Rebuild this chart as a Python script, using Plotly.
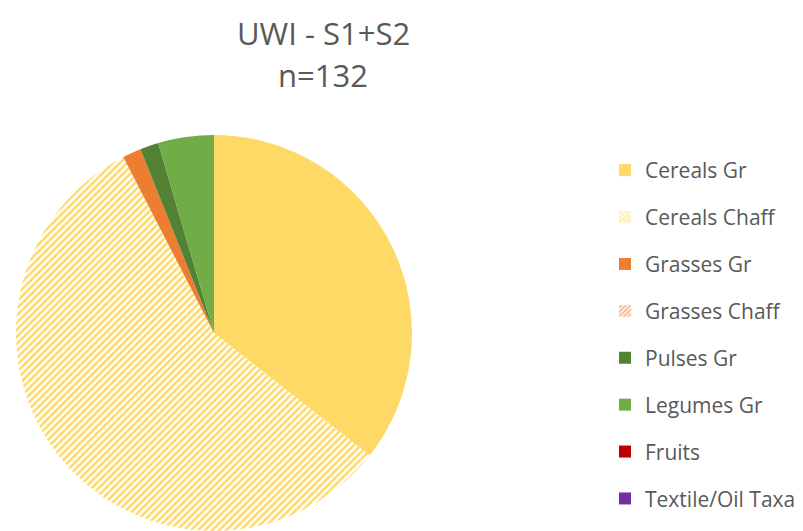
import plotly.graph_objects as go

# Seed counts by category (UWI, samples S1+S2)
categories = ["Cereals Gr", "Cereals Chaff", "Grasses Gr", "Grasses Chaff",
              "Pulses Gr", "Legumes Gr", "Fruits", "Textile/Oil Taxa"]
counts = [47, 75, 2, 0, 2, 6, 0, 0]
colors = ["#FFD966", "#FFD966", "#ED7D31", "#ED7D31",
          "#548235", "#70AD47", "#C00000", "#7030A0"]
hatch = ["", "/", "", "/", "", "", "", ""]
title_lines = ["UWI - S1+S2", "n=132"]

TEXT = "#595959"
FONT = "Open Sans"

fig = go.Figure()

fig.add_trace(go.Pie(
    labels=categories,
    values=counts,
    sort=False,
    direction="clockwise",
    rotation=0,
    textinfo="none",
    showlegend=False,
    marker=dict(
        colors=colors,
        line=dict(width=0),
        pattern=dict(shape=hatch, fgcolor=colors, bgcolor="white",
                     size=5, solidity=0.5),
    ),
    domain=dict(x=[16 / 803, 412 / 803], y=[0, 396 / 531]),
))

# Legend entries with square (and hatched) swatches
for name, col, shp in zip(categories, colors, hatch):
    fig.add_trace(go.Bar(
        x=[None], y=[None], name=name, legendgroup=name,
        marker=dict(color=col if shp == "" else "white", line=dict(width=0),
                    pattern=dict(shape=shp, fgcolor=col, bgcolor="white",
                                 size=4, solidity=0.65)),
        hoverinfo="skip",
    ))

# Two-line chart title
for txt, yc in zip(title_lines, [33, 75]):
    fig.add_annotation(text=txt, x=323 / 803, y=1 - yc / 531,
                       xref="paper", yref="paper", xanchor="center",
                       yanchor="middle", showarrow=False,
                       font=dict(size=31, color=TEXT, family=FONT))

fig.update_layout(
    width=803, height=531,
    margin=dict(l=0, r=0, t=0, b=0),
    paper_bgcolor="white", plot_bgcolor="white",
    font=dict(family=FONT, color=TEXT),
    legend=dict(x=605 / 803, xanchor="left", y=1 - 150 / 531, yanchor="top",
                font=dict(size=21, color=TEXT, family=FONT),
                tracegroupgap=16.6, traceorder="grouped",
                bgcolor="rgba(0,0,0,0)"),
    xaxis=dict(visible=False), yaxis=dict(visible=False),
)

fig.write_html("out.html")
